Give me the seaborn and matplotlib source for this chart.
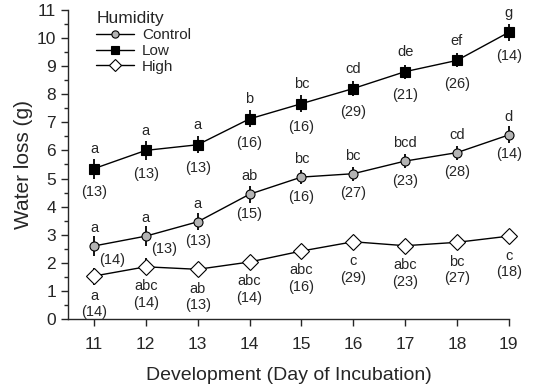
import matplotlib
matplotlib.use('Agg')
import matplotlib.pyplot as plt
from matplotlib.ticker import MultipleLocator
import seaborn as sns
import pandas as pd

# 데이터
days = [11, 12, 13, 14, 15, 16, 17, 18, 19]

low = [5.35, 6.0, 6.2, 7.12, 7.66, 8.2, 8.8, 9.2, 10.2]
low_se = [0.35, 0.35, 0.3, 0.3, 0.3, 0.25, 0.25, 0.25, 0.3]
low_letters = ['a', 'a', 'a', 'b', 'bc', 'cd', 'de', 'ef', 'g']
low_n = [13, 13, 13, 16, 16, 29, 21, 26, 14]

control = [2.6, 2.95, 3.46, 4.44, 5.05, 5.17, 5.62, 5.92, 6.55]
control_se = [0.35, 0.35, 0.3, 0.3, 0.25, 0.25, 0.25, 0.25, 0.3]
control_letters = ['a', 'a', 'a', 'ab', 'bc', 'bc', 'bcd', 'cd', 'd']
control_n = [14, 13, 13, 15, 16, 27, 23, 28, 14]

high = [1.53, 1.86, 1.77, 2.03, 2.42, 2.75, 2.61, 2.73, 2.95]
high_se = [0.3, 0.3, 0.25, 0.2, 0.15, 0.1, 0.1, 0.1, 0.1]
high_letters = ['a', 'abc', 'ab', 'abc', 'abc', 'c', 'abc', 'bc', 'c']
high_n = [14, 14, 13, 14, 16, 29, 23, 27, 18]

sns.set_style('ticks')
plt.rcParams['font.family'] = ['Liberation Sans', 'DejaVu Sans']

fig = plt.figure(figsize=(5.33, 3.92), dpi=100)
ax = fig.add_axes([0.1276, 0.186, 0.827, 0.789])

groups = [
    ('Control', control, control_se, 'o', '#b4b4b4', 6.5),
    ('Low', low, low_se, 's', 'black', 7),
    ('High', high, high_se, 'D', 'white', 8),
]

for name, vals, se, mk, fc, ms in groups:
    df = pd.DataFrame({'day': days, 'loss': vals})
    ax.errorbar(days, vals, yerr=se, fmt='none', ecolor='black', elinewidth=1.3,
                capsize=0, zorder=2, clip_on=False)
    sns.lineplot(data=df, x='day', y='loss', ax=ax, color='black', lw=1,
                 marker=mk, markerfacecolor=fc, markeredgecolor='black',
                 markersize=ms, markeredgewidth=0.8, label=name, zorder=3,
                 clip_on=False)

fs = 10.5
# Low: 글자 위, n 아래
for d, v, l, n in zip(days, low, low_letters, low_n):
    ax.annotate(l, (d, v), xytext=(0, 14), textcoords='offset points',
                ha='center', va='center', fontsize=fs)
    ax.annotate(f'({n})', (d, v), xytext=(0, -17), textcoords='offset points',
                ha='center', va='center', fontsize=fs)

# Control: 글자 위, n 아래 (앞의 두 개는 오른쪽으로)
ctrl_n_off = {0: (13, -10), 1: (13, -9)}
for i, (d, v, l, n) in enumerate(zip(days, control, control_letters, control_n)):
    ax.annotate(l, (d, v), xytext=(0, 13), textcoords='offset points',
                ha='center', va='center', fontsize=fs)
    ax.annotate(f'({n})', (d, v), xytext=ctrl_n_off.get(i, (0, -14)),
                textcoords='offset points', ha='center', va='center', fontsize=fs)

# High: 글자, n 모두 아래
for d, v, l, n in zip(days, high, high_letters, high_n):
    ax.annotate(l, (d, v), xytext=(0, -14), textcoords='offset points',
                ha='center', va='center', fontsize=fs)
    ax.annotate(f'({n})', (d, v), xytext=(0, -26), textcoords='offset points',
                ha='center', va='center', fontsize=fs)

ax.set_xlim(10.5, 19)
ax.set_ylim(0, 11)
ax.set_xticks(days)
ax.yaxis.set_major_locator(MultipleLocator(1))
ax.yaxis.set_minor_locator(MultipleLocator(0.5))
ax.tick_params(axis='both', which='major', labelsize=12.5, length=5, width=1,
               direction='out')
ax.tick_params(axis='y', which='minor', length=3, width=1, direction='out')
ax.tick_params(axis='x', pad=8)
for s in ['top', 'right']:
    ax.spines[s].set_visible(False)
ax.spines['left'].set_linewidth(1)
ax.spines['bottom'].set_linewidth(1)

ax.set_xlabel('Development (Day of Incubation)', fontsize=14, labelpad=11)
ax.set_ylabel('Water loss (g)', fontsize=15, labelpad=3)

leg = ax.legend(title='Humidity', loc='upper left', bbox_to_anchor=(0.05, 1.015),
                frameon=False, fontsize=11, title_fontsize=12.5,
                handlelength=2.5, borderaxespad=0, labelspacing=0.12,
                handletextpad=0.5, markerscale=0.8)
leg._legend_box.align = 'left'

fig.savefig('out.png', dpi=100)
